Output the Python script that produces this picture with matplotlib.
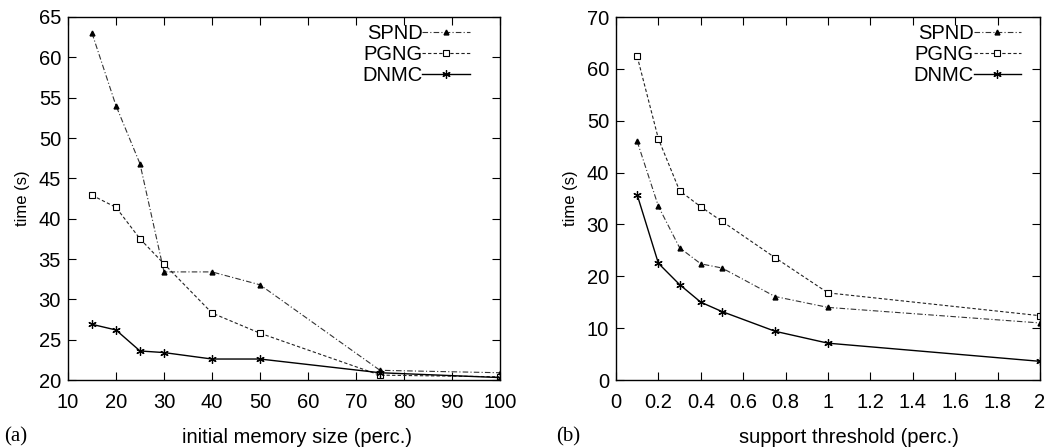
import numpy as np
import matplotlib
matplotlib.use('Agg')
import matplotlib.pyplot as plt
from matplotlib.ticker import FuncFormatter

plt.rcParams['font.family'] = ['Liberation Sans', 'DejaVu Sans']

# (a) initial memory size
mem_x = [15, 20, 25, 30, 40, 50, 75, 100]
mem_spnd = [63.0, 54.0, 46.8, 33.4, 33.4, 31.8, 21.2, 20.9]
mem_pgng = [42.9, 41.4, 37.5, 34.4, 28.3, 25.8, 20.6, 20.4]
mem_dnmc = [26.9, 26.2, 23.6, 23.4, 22.6, 22.6, 20.9, 20.3]

# (b) support threshold
sup_x = [0.1, 0.2, 0.3, 0.4, 0.5, 0.75, 1.0, 2.0]
sup_spnd = [46.0, 33.5, 25.5, 22.4, 21.6, 16.1, 14.0, 11.0]
sup_pgng = [62.4, 46.5, 36.5, 33.4, 30.6, 23.6, 16.8, 12.4]
sup_dnmc = [35.7, 22.5, 18.4, 15.0, 13.2, 9.4, 7.1, 3.6]

labels = ['SPND', 'PGNG', 'DNMC']
star = (6, 2, 0)

fig = plt.figure(figsize=(10.54, 4.48), dpi=100)
W, H = 1054., 448.
ax1 = fig.add_axes([68/W, 1 - 380/H, (500-68)/W, (380-17)/H])
ax2 = fig.add_axes([616/W, 1 - 380/H, (1040-616)/W, (380-17)/H])

def draw(ax, x, spnd, pgng, dnmc, anchor):
    ax.plot(x, spnd, color='#333333', lw=0.8, ls=(0, (5, 2, 1, 2)),
            marker='^', ms=3.5, mfc='black', mec='black', label=labels[0])
    ax.plot(x, pgng, color='#222222', lw=0.8, ls=(0, (3, 2)),
            marker='s', ms=5, mfc='white', mec='black', mew=0.8, label=labels[1])
    ax.plot(x, dnmc, color='black', lw=1.0, ls='-',
            marker=star, ms=6, mec='black', mew=0.9, label=labels[2])
    ax.tick_params(direction='in', top=True, right=True, length=6,
                   width=0.8, labelsize=14.5)
    ax.tick_params(axis='x', pad=9)
    ax.tick_params(axis='y', pad=5)
    for s in ax.spines.values():
        s.set_linewidth(1.0)
    leg = ax.legend(loc='upper right', bbox_to_anchor=anchor, frameon=False,
                    markerfirst=False, fontsize=14.5, handlelength=2.35,
                    handletextpad=0.0, labelspacing=0.1, borderaxespad=0,
                    borderpad=0)
    for t in leg.get_texts():
        t.set_ha('right')
    ax.set_ylabel('time (s)', fontsize=12, labelpad=6)

draw(ax1, mem_x, mem_spnd, mem_pgng, mem_dnmc, (0.93, 0.98))
ax1.set_xlim(10, 100)
ax1.set_ylim(20, 65)
ax1.set_xticks(np.arange(10, 101, 10))
ax1.set_yticks(np.arange(20, 66, 5))

draw(ax2, sup_x, sup_spnd, sup_pgng, sup_dnmc, (0.955, 0.98))
ax2.set_xlim(0, 2)
ax2.set_ylim(0, 70)
ax2.set_xticks(np.arange(0, 2.01, 0.2))
ax2.set_yticks(np.arange(0, 71, 10))
ax2.xaxis.set_major_formatter(FuncFormatter(lambda v, p: ('%.1f' % v).rstrip('0').rstrip('.')))

fig.text(297/W, 1 - 437/H, 'initial memory size (perc.)', fontsize=14.5, ha='center', va='center')
fig.text(849/W, 1 - 437/H, 'support threshold (perc.)', fontsize=14.5, ha='center', va='center')
fig.text(4/W, 1 - 437/H, '(a)', fontsize=15, family=['Liberation Serif', 'DejaVu Serif'], va='center')
fig.text(556/W, 1 - 437/H, '(b)', fontsize=15, family=['Liberation Serif', 'DejaVu Serif'], va='center')

fig.savefig('out.png', dpi=100)
